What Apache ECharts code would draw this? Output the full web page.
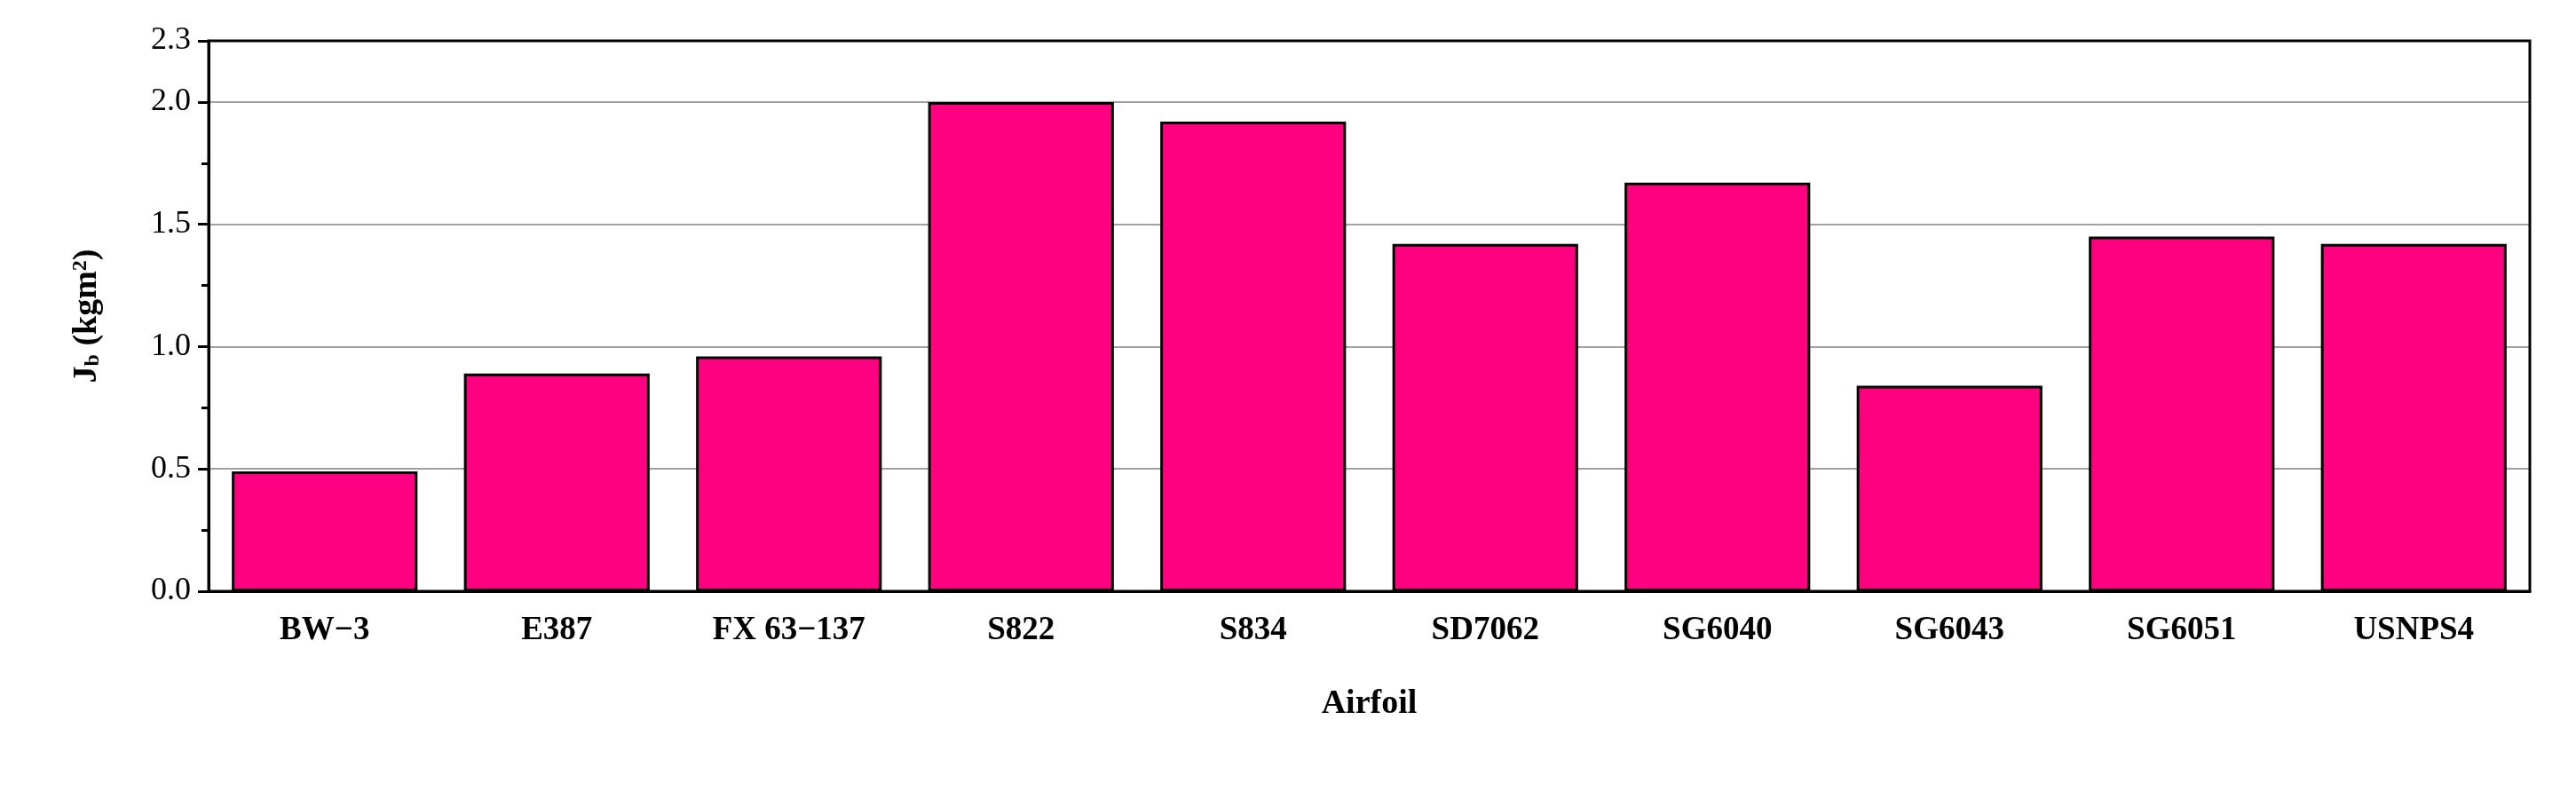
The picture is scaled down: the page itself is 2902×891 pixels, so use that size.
<!DOCTYPE html>
<html><head><meta charset="utf-8">
<script src="https://cdn.jsdelivr.net/npm/echarts@6/dist/echarts.min.js"></script>
<style>html,body{margin:0;padding:0;background:#fff}#c{width:2902px;height:891px}</style>
</head><body><div id="c"></div>
<script>
const categories = ['BW\u22123','E387','FX 63\u2212137','S822','S834','SD7062','SG6040','SG6043','SG6051','USNPS4'];
const values = [0.49,0.89,0.96,2.0,1.92,1.42,1.67,0.84,1.45,1.42];
const F = 'Liberation Serif';
const chart = echarts.init(document.getElementById('c'));
chart.setOption({
  animation:false,
  grid:{left:235,right:52,top:46,bottom:225,show:true,borderColor:'#000',borderWidth:3,z:5},
  xAxis:[{
    type:'category',data:categories,
    axisLine:{lineStyle:{color:'#000',width:3}},
    axisTick:{alignWithLabel:true,length:12,lineStyle:{width:3,color:'#000'}},
    axisLabel:{fontFamily:F,fontWeight:'bold',fontSize:37,color:'#000',margin:26,interval:0},
    name:'Airfoil',nameLocation:'middle',nameGap:108,
    nameTextStyle:{fontFamily:F,fontWeight:'bold',fontSize:38,color:'#000'}
  },{
    type:'category',data:categories,position:'bottom',
    axisLine:{show:false},axisLabel:{show:false},
    axisTick:{length:7,lineStyle:{width:3,color:'#000'}}
  }],
  yAxis:{
    type:'value',min:0,max:2.25,interval:0.5,
    axisLine:{show:true,lineStyle:{color:'#000',width:3}},
    axisTick:{show:true,length:12,lineStyle:{width:3,color:'#000'}},
    minorTick:{show:true,splitNumber:2,length:8,lineStyle:{width:3,color:'#000'}},
    splitLine:{show:true,lineStyle:{color:'#a0a0a0',width:2}},
    axisLabel:{fontFamily:F,fontSize:36,color:'#000',margin:20,formatter:v=>v.toFixed(1)},
    name:'{b|J}{s|b}{b| (kgm}{p|2}{b|)}',nameLocation:'middle',nameGap:118,
    nameTextStyle:{rich:{
      b:{fontFamily:F,fontWeight:'bold',fontSize:38,color:'#000'},
      s:{fontFamily:F,fontWeight:'bold',fontSize:24,color:'#000',verticalAlign:'bottom',padding:[14,0,0,0]},
      p:{fontFamily:F,fontWeight:'bold',fontSize:24,color:'#000',verticalAlign:'top',padding:[0,0,14,0]}
    }}
  },
  series:[{type:'bar',data:values,barWidth:'80%',
    itemStyle:{color:'#ff0080',borderColor:'#000',borderWidth:3}}]
});
</script></body></html>
